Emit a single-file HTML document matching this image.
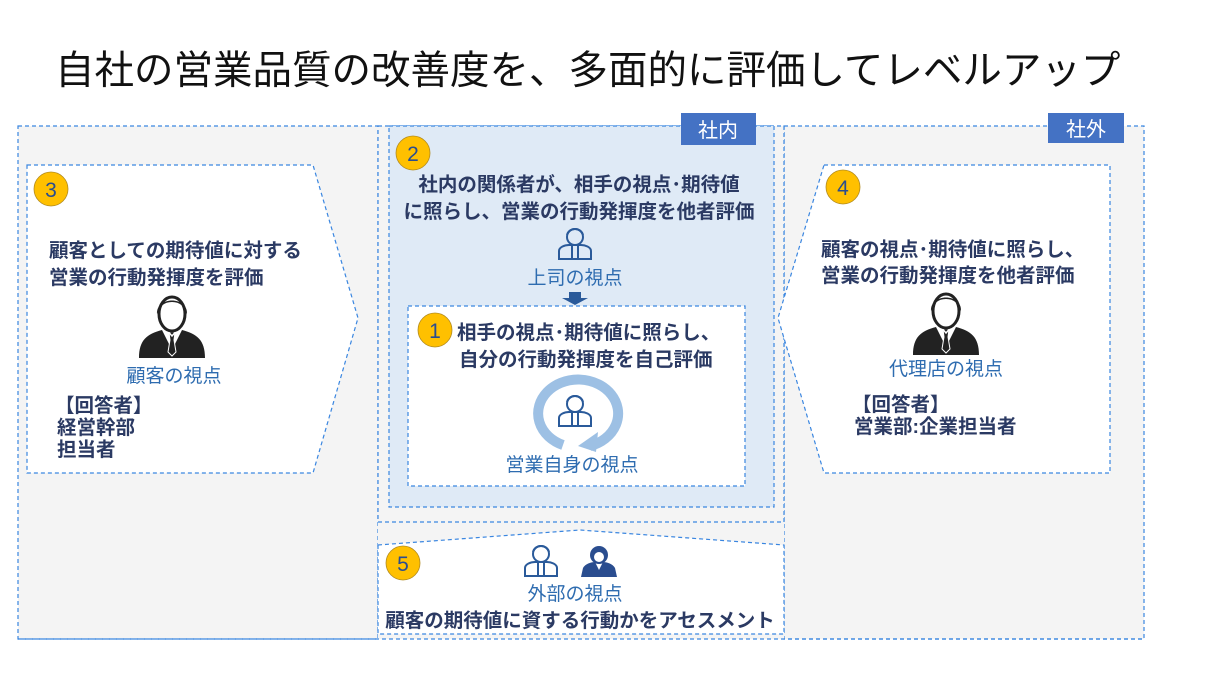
<!DOCTYPE html>
<html><head><meta charset="utf-8"><style>
body{margin:0;background:#fff;}
svg{display:block;font-family:"Liberation Sans","Noto Sans CJK JP",sans-serif;}
.b{font-weight:bold;fill:#2b3a63;font-size:19.5px;}
.l{fill:#2e6cb0;font-size:19px;}
.n{font-size:21px;fill:#2a4d8f;}
.d{stroke:#3a86e0;stroke-dasharray:4,3;stroke-width:1.2;}
</style></head><body>
<svg width="1230" height="680" viewBox="0 0 1230 680">
<defs>
<g id="man">
<path d="M-33,30 C-33,12 -25,6 -10,2 L0,22 L10,2 C25,6 33,12 33,30 Z" fill="#222"/>
<path d="M-3,4 L3,4 L2,12 L4,24 L0,28 L-4,24 L-2,12Z" fill="#222" stroke="#fff" stroke-width="1"/>
<path d="M-7,0 L0,8 L7,0" fill="none" stroke="#fff" stroke-width="1.5"/>
<ellipse cx="0" cy="-14" rx="13" ry="17" fill="#fff" stroke="#222" stroke-width="3"/>
<path d="M-15,-14 C-16,-32 16,-32 15,-14 C12,-22 8,-26 0,-26 C-8,-26 -12,-22 -15,-14Z" fill="#222"/>
</g>
<g id="boss" fill="none" stroke="#2a5a9a" stroke-width="2">
<circle cx="0" cy="-8" r="8"/>
<path d="M-8,-10 C-6,-18 6,-18 8,-10"/>
<path d="M-16,14 L-16,6 C-16,2 -10,0 -6,0 L6,0 C10,0 16,2 16,6 L16,14 Z"/>
<path d="M-3,0 L-3,14 M3,0 L3,14"/>
</g>
</defs>
<text x="55" y="84" font-size="39.5" fill="#111">自社の営業品質の改善度を、多面的に評価してレベルアップ</text>
<rect x="18" y="126" width="360" height="513" fill="#f4f4f4" class="d"/>
<rect x="784" y="126" width="360" height="513" fill="#f4f4f4" class="d"/>
<rect x="378" y="126" width="406" height="513" fill="#f4f4f4"/>
<line x1="18" y1="639" x2="1144" y2="639" class="d"/>
<rect x="378" y="126" width="406" height="396" fill="#f4f4f4" class="d"/>
<rect x="389" y="126" width="385" height="381" fill="#dfeaf6" class="d"/>
<rect x="681" y="113" width="75" height="32" fill="#4472c4"/>
<text x="718" y="137" font-size="20" fill="#fff" text-anchor="middle">社内</text>
<rect x="1048" y="113" width="76" height="30" fill="#4472c4"/>
<text x="1086" y="136" font-size="20" fill="#fff" text-anchor="middle">社外</text>
<!-- panel 3 -->
<path d="M27,165 L313,165 L358,318 L313,473 L27,473Z" fill="#fff" class="d"/>
<circle cx="51" cy="189" r="17" fill="#ffc000" stroke="#b08a20" stroke-width="0.8"/>
<text x="51" y="197" class="n" text-anchor="middle">3</text>
<text x="49" y="257" class="b">顧客としての期待値に対する</text>
<text x="49" y="284" class="b">営業の行動発揮度を評価</text>
<use href="#man" x="172" y="328"/>
<text x="174" y="382" class="l" text-anchor="middle">顧客の視点</text>
<text x="55" y="412" class="b" font-size="17">【回答者】</text>
<text x="57" y="434" class="b" font-size="17">経営幹部</text>
<text x="57" y="456" class="b" font-size="17">担当者</text>
<!-- panel 4 -->
<path d="M824,165 L1110,165 L1110,473 L824,473 L778,318Z" fill="#fff" class="d"/>
<circle cx="843" cy="187" r="17" fill="#ffc000" stroke="#b08a20" stroke-width="0.8"/>
<text x="843" y="195" class="n" text-anchor="middle">4</text>
<text x="821" y="256" class="b">顧客の視点･期待値に照らし、</text>
<text x="821" y="282" class="b">営業の行動発揮度を他者評価</text>
<use href="#man" x="946" y="325"/>
<text x="946" y="375" class="l" text-anchor="middle">代理店の視点</text>
<text x="852" y="411" class="b" font-size="17">【回答者】</text>
<text x="854" y="433" class="b" font-size="17">営業部:企業担当者</text>
<!-- panel 2 -->
<circle cx="413" cy="153" r="17" fill="#ffc000" stroke="#b08a20" stroke-width="0.8"/>
<text x="413" y="161" class="n" text-anchor="middle">2</text>
<text x="579" y="191" class="b" text-anchor="middle">社内の関係者が、相手の視点･期待値</text>
<text x="579" y="218" class="b" text-anchor="middle">に照らし、営業の行動発揮度を他者評価</text>
<use href="#boss" x="575" y="245"/>
<text x="575" y="284" class="l" text-anchor="middle">上司の視点</text>
<path d="M569,292 L581,292 L581,298 L588,298 L575,305 L562,298 L569,298Z" fill="#2a5a9a"/>
<!-- panel 1 -->
<rect x="408" y="306" width="337" height="180" fill="#fff" class="d"/>
<circle cx="435" cy="330" r="17" fill="#ffc000" stroke="#b08a20" stroke-width="0.8"/>
<text x="435" y="338" class="n" text-anchor="middle">1</text>
<text x="457" y="339" class="b">相手の視点･期待値に照らし、</text>
<text x="459" y="366" class="b">自分の行動発揮度を自己評価</text>
<path d="M563,445 A40,34 0 1 1 590,446" fill="none" stroke="#9dc0e4" stroke-width="10"/>
<path d="M578,446 L598,432 L596,452Z" fill="#9dc0e4"/>
<use href="#boss" x="575" y="412"/>
<text x="572" y="471" class="l" text-anchor="middle">営業自身の視点</text>
<!-- panel 5 -->
<path d="M378,545 L580,530 L784,545 L784,634 L378,634Z" fill="#fff" class="d"/>
<circle cx="403" cy="563" r="17" fill="#ffc000" stroke="#b08a20" stroke-width="0.8"/>
<text x="403" y="571" class="n" text-anchor="middle">5</text>
<use href="#boss" x="541" y="562"/>
<g transform="translate(599,562)"><circle cx="0" cy="-7" r="9" fill="#2a4d8f"/><path d="M-18,15 L-16,6 C-14,2 -8,0 -4,0 L0,8 L4,0 C8,0 14,2 16,6 L18,15Z" fill="#2a4d8f"/><circle cx="0" cy="-5" r="5" fill="#fff"/></g>
<text x="575" y="600" class="l" text-anchor="middle">外部の視点</text>
<text x="580" y="627" class="b" text-anchor="middle">顧客の期待値に資する行動かをアセスメント</text>
</svg>
</body></html>
